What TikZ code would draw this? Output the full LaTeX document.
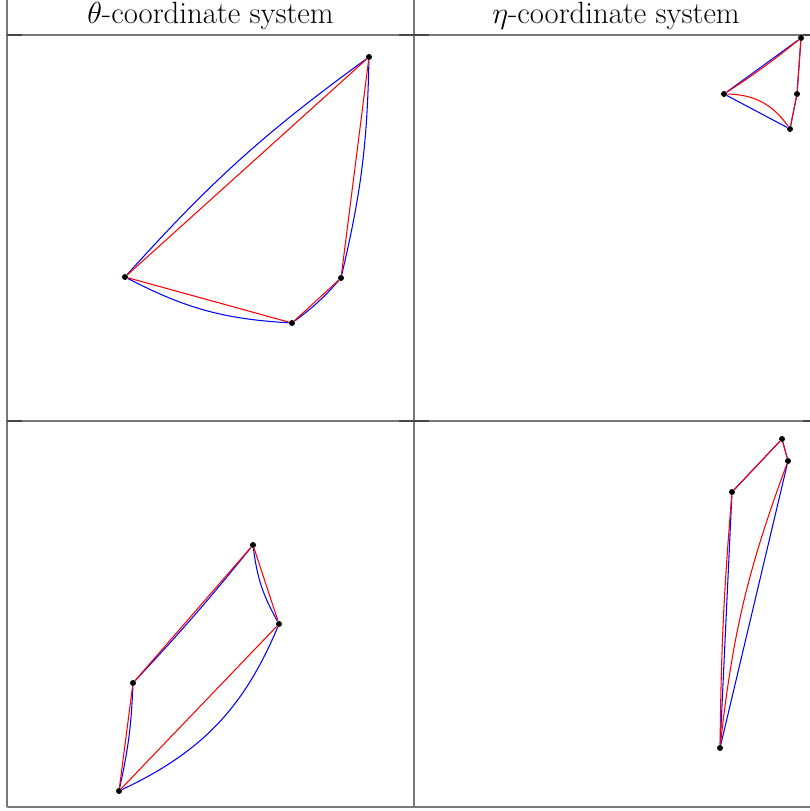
\documentclass[tikz,border=0pt]{standalone}
\usepackage{tikz}
\usetikzlibrary{positioning,calc}
\usepackage{xcolor}
\definecolor{GridGray}{RGB}{120,120,120}
\definecolor{TickGray}{RGB}{70,70,70}

\begin{document}
\begin{tikzpicture}[x=0.2mm,y=0.2mm,
  grid/.style={draw=GridGray,line width=0.7pt},
  tick/.style={draw=TickGray,line width=1.1pt},
  head/.style={font=\fontsize{17.5}{21}\selectfont},
  dot/.style={circle,fill=black,inner sep=0pt,minimum size=3.4pt},
  mgeo/.style={blue,line width=0.6pt},
  egeo/.style={red,line width=0.6pt}
]
\useasboundingbox (0,0) rectangle (809,811);
\draw[grid] (7,811) -- (7,4);
\draw[grid] (414,811) -- (414,4);
\draw[grid] (7,776) -- (818,776);
\draw[grid] (7,390) -- (818,390);
\draw[grid] (7,4) -- (818,4);
\foreach \y in {776,390}{
  \draw[tick] (7,\y) -- (22,\y);
  \draw[tick] (399,\y) -- (414,\y);
  \draw[tick] (414,\y) -- (429,\y);
  \draw[tick] (803,\y) -- (818,\y);
}
\node[head] (thetahead) at (210.5,795) {$\theta$-coordinate system};
\node[head] (etahead) at (616,795) {$\eta$-coordinate system};

\node[dot] (tl1) at (369,754) {};
\node[dot] (tl2) at (125,534) {};
\node[dot] (tl3) at (292,488) {};
\node[dot] (tl4) at (341,533) {};
\draw[mgeo] (tl2) to[bend left=6] (tl1);
\draw[mgeo] (tl2) to[bend right=12] (tl3);
\draw[mgeo] (tl3) to[bend right=6] (tl4);
\draw[mgeo] (tl4) to[bend right=6] (tl1);
\draw[egeo] (tl2) -- (tl1);
\draw[egeo] (tl2) -- (tl3);
\draw[egeo] (tl3) -- (tl4);
\draw[egeo] (tl4) -- (tl1);

\node[dot] (tr1) at (801,773) {};
\node[dot] (tr2) at (724,717) {};
\node[dot] (tr3) at (797,717) {};
\node[dot] (tr4) at (790,682) {};
\draw[mgeo] (tr2) -- (tr1);
\draw[mgeo] (tr2) -- (tr4);
\draw[mgeo] (tr4) -- (tr3);
\draw[mgeo] (tr3) -- (tr1);
\draw[egeo] (tr2) to[bend right=3] (tr1);
\draw[egeo] (tr2) to[bend left=27] (tr4);
\draw[egeo] (tr4) -- (tr3);
\draw[egeo] (tr3) -- (tr1);

\node[dot] (bl1) at (253,266) {};
\node[dot] (bl2) at (279,187) {};
\node[dot] (bl3) at (133,128) {};
\node[dot] (bl4) at (119,20) {};
\draw[mgeo] (bl3) to[bend right=2] (bl1);
\draw[mgeo] (bl1) to[bend right=11] (bl2);
\draw[mgeo] (bl2) to[bend left=21] (bl4);
\draw[mgeo] (bl4) to[bend right=5] (bl3);
\draw[egeo] (bl3) -- (bl1);
\draw[egeo] (bl1) -- (bl2);
\draw[egeo] (bl2) -- (bl4);
\draw[egeo] (bl4) -- (bl3);

\node[dot] (br1) at (782,372) {};
\node[dot] (br2) at (788,350) {};
\node[dot] (br3) at (732,319) {};
\node[dot] (br4) at (720,63) {};
\draw[mgeo] (br3) -- (br1);
\draw[mgeo] (br1) -- (br2);
\draw[mgeo] (br2) -- (br4);
\draw[mgeo] (br4) -- (br3);
\draw[egeo] (br3) -- (br1);
\draw[egeo] (br1) -- (br2);
\draw[egeo] (br2) to[bend right=7] (br4);
\draw[egeo] (br4) to[bend left=2] (br3);
\end{tikzpicture}
\end{document}
